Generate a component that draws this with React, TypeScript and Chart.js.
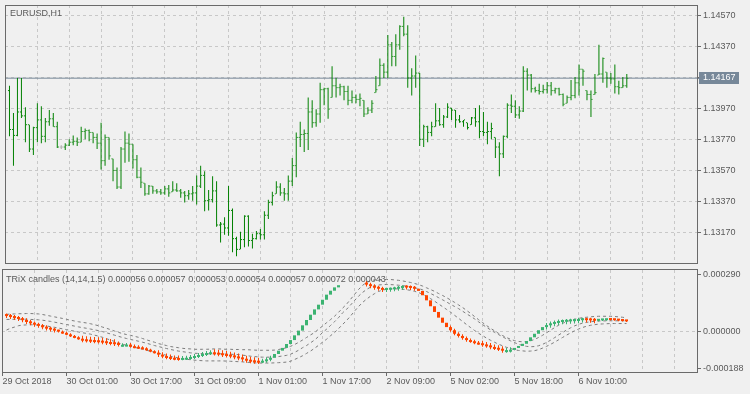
import React, { useEffect, useRef } from 'react';
import { Chart, registerables } from 'chart.js';

Chart.register(...registerables);

// ---------- text ----------
const SYMBOL_TITLE = 'EURUSD,H1';
const IND_TITLE = 'TRiX candles (14,14,1.5) 0.000056 0.000057 0.000053 0.000054 0.000057 0.000072 0.000043';

// ---------- price bars (EURUSD H1) ----------
const barOpen = [
  1.14087, 1.13836, 1.13798, 1.13949, 1.13924, 1.13867, 1.13710, 1.13848, 1.13898, 1.13792,
  1.13886, 1.13905, 1.13854, 1.13723, 1.13723, 1.13735, 1.13754, 1.13760, 1.13754, 1.13823,
  1.13829, 1.13817, 1.13785, 1.13748, 1.13635, 1.13785, 1.13647, 1.13572, 1.13465, 1.13710,
  1.13748, 1.13741, 1.13641, 1.13528, 1.13490, 1.13421, 1.13471, 1.13440, 1.13434, 1.13427,
  1.13453, 1.13434, 1.13446, 1.13440, 1.13427, 1.13409, 1.13421, 1.13427, 1.13471, 1.13540,
  1.13377, 1.13383, 1.13440, 1.13220, 1.13226, 1.13201, 1.13314, 1.13132, 1.13063, 1.13126,
  1.13277, 1.13120, 1.13132, 1.13164, 1.13157, 1.13283, 1.13365, 1.13421, 1.13465, 1.13427,
  1.13421, 1.13503, 1.13603, 1.13785, 1.13804, 1.13810, 1.13949, 1.13880, 1.13936, 1.14093,
  1.14099, 1.14043, 1.14118, 1.14106, 1.14112, 1.14081, 1.14024, 1.14043, 1.14030, 1.14024,
  1.13936, 1.13961, 1.14074, 1.14118, 1.14250, 1.14206, 1.14382, 1.14307, 1.14382, 1.14501,
  1.14451, 1.14168, 1.14181, 1.14200, 1.13773, 1.13854, 1.13817, 1.13854, 1.13892, 1.13867,
  1.13917, 1.13974, 1.13961, 1.13898, 1.13886, 1.13880, 1.13867, 1.13911, 1.13886, 1.13823,
  1.13817, 1.13823, 1.13785, 1.13723, 1.13679, 1.13792, 1.13993, 1.13986, 1.13930, 1.13955,
  1.14212, 1.14187, 1.14099, 1.14087, 1.14081, 1.14093, 1.14118, 1.14087, 1.14099, 1.14062,
  1.14005, 1.14043, 1.14055, 1.14137, 1.14225, 1.14087, 1.14062, 1.14062, 1.14187, 1.14194,
  1.14206, 1.14168, 1.14162, 1.14112, 1.14106, 1.14118,
];
const barHigh = [
  1.14118, 1.13942, 1.14168, 1.14168, 1.13980, 1.13867, 1.13854, 1.14005, 1.13986, 1.13911,
  1.13961, 1.13942, 1.13886, 1.13735, 1.13748, 1.13773, 1.13798, 1.13785, 1.13854, 1.13842,
  1.13836, 1.13817, 1.13810, 1.13880, 1.13804, 1.13785, 1.13647, 1.13591, 1.13723, 1.13823,
  1.13810, 1.13741, 1.13672, 1.13591, 1.13490, 1.13478, 1.13471, 1.13453, 1.13453, 1.13471,
  1.13478, 1.13503, 1.13490, 1.13453, 1.13440, 1.13446, 1.13471, 1.13540, 1.13603, 1.13566,
  1.13446, 1.13534, 1.13503, 1.13239, 1.13270, 1.13471, 1.13327, 1.13145, 1.13176, 1.13283,
  1.13283, 1.13164, 1.13182, 1.13195, 1.13308, 1.13383, 1.13434, 1.13503, 1.13490, 1.13459,
  1.13540, 1.13653, 1.13817, 1.13886, 1.13836, 1.14043, 1.14024, 1.13967, 1.14137, 1.14106,
  1.14106, 1.14244, 1.14168, 1.14131, 1.14118, 1.14118, 1.14087, 1.14062, 1.14068, 1.14024,
  1.13980, 1.14024, 1.14181, 1.14294, 1.14263, 1.14445, 1.14401, 1.14451, 1.14508, 1.14564,
  1.14508, 1.14231, 1.14313, 1.14200, 1.13867, 1.13861, 1.13886, 1.14005, 1.13974, 1.13930,
  1.14005, 1.13974, 1.13961, 1.13930, 1.13898, 1.13880, 1.13917, 1.13974, 1.13993, 1.13949,
  1.13886, 1.13880, 1.13785, 1.13754, 1.13798, 1.14005, 1.14062, 1.14024, 1.13986, 1.14244,
  1.14231, 1.14194, 1.14112, 1.14131, 1.14124, 1.14143, 1.14143, 1.14106, 1.14106, 1.14068,
  1.14055, 1.14156, 1.14175, 1.14256, 1.14225, 1.14087, 1.14087, 1.14194, 1.14382, 1.14300,
  1.14206, 1.14200, 1.14256, 1.14150, 1.14175, 1.14194,
];
const barLow = [
  1.13792, 1.13603, 1.13792, 1.13911, 1.13754, 1.13691, 1.13672, 1.13754, 1.13748, 1.13754,
  1.13861, 1.13854, 1.13716, 1.13710, 1.13704, 1.13729, 1.13735, 1.13729, 1.13754, 1.13773,
  1.13760, 1.13748, 1.13710, 1.13578, 1.13603, 1.13641, 1.13503, 1.13453, 1.13453, 1.13622,
  1.13628, 1.13584, 1.13522, 1.13459, 1.13409, 1.13415, 1.13421, 1.13421, 1.13415, 1.13415,
  1.13402, 1.13434, 1.13434, 1.13396, 1.13365, 1.13383, 1.13377, 1.13352, 1.13459, 1.13308,
  1.13314, 1.13365, 1.13208, 1.13107, 1.13157, 1.13151, 1.13044, 1.13019, 1.13063, 1.13076,
  1.13082, 1.13069, 1.13126, 1.13126, 1.13126, 1.13258, 1.13346, 1.13421, 1.13409, 1.13377,
  1.13377, 1.13471, 1.13528, 1.13723, 1.13691, 1.13704, 1.13848, 1.13854, 1.13880, 1.13993,
  1.13905, 1.14043, 1.14043, 1.14055, 1.14024, 1.13993, 1.14005, 1.14005, 1.13986, 1.13917,
  1.13936, 1.13942, 1.14074, 1.14118, 1.14168, 1.14168, 1.14244, 1.14244, 1.14351, 1.14438,
  1.14106, 1.14055, 1.14106, 1.13729, 1.13723, 1.13754, 1.13792, 1.13854, 1.13861, 1.13848,
  1.13911, 1.13898, 1.13848, 1.13880, 1.13854, 1.13836, 1.13867, 1.13854, 1.13779, 1.13792,
  1.13741, 1.13773, 1.13653, 1.13534, 1.13653, 1.13779, 1.13942, 1.13911, 1.13905, 1.13949,
  1.14087, 1.14074, 1.14074, 1.14062, 1.14068, 1.14068, 1.14055, 1.14068, 1.14055, 1.13986,
  1.14005, 1.14024, 1.14037, 1.14055, 1.14118, 1.14024, 1.13917, 1.14062, 1.14187, 1.14137,
  1.14106, 1.14131, 1.14068, 1.14062, 1.14106, 1.14106,
];
const barClose = [
  1.13836, 1.13798, 1.13949, 1.13924, 1.13867, 1.13710, 1.13848, 1.13898, 1.13792, 1.13886,
  1.13905, 1.13854, 1.13723, 1.13723, 1.13735, 1.13754, 1.13760, 1.13754, 1.13823, 1.13829,
  1.13817, 1.13785, 1.13748, 1.13635, 1.13785, 1.13666, 1.13572, 1.13465, 1.13710, 1.13748,
  1.13741, 1.13641, 1.13528, 1.13496, 1.13421, 1.13471, 1.13440, 1.13434, 1.13427, 1.13453,
  1.13427, 1.13446, 1.13440, 1.13427, 1.13409, 1.13421, 1.13427, 1.13471, 1.13540, 1.13377,
  1.13383, 1.13440, 1.13220, 1.13226, 1.13201, 1.13314, 1.13132, 1.13063, 1.13126, 1.13277,
  1.13120, 1.13132, 1.13164, 1.13157, 1.13283, 1.13365, 1.13409, 1.13465, 1.13427, 1.13421,
  1.13503, 1.13603, 1.13785, 1.13804, 1.13810, 1.13949, 1.13880, 1.13936, 1.14093, 1.14099,
  1.13967, 1.14118, 1.14106, 1.14112, 1.14081, 1.14024, 1.14043, 1.14030, 1.14037, 1.13936,
  1.13961, 1.14005, 1.14093, 1.14250, 1.14206, 1.14382, 1.14307, 1.14382, 1.14501, 1.14451,
  1.14168, 1.14181, 1.14200, 1.13773, 1.13854, 1.13817, 1.13854, 1.13892, 1.13867, 1.13917,
  1.13980, 1.13961, 1.13898, 1.13886, 1.13898, 1.13848, 1.13911, 1.13886, 1.13823, 1.13817,
  1.13823, 1.13842, 1.13723, 1.13679, 1.13792, 1.13993, 1.13986, 1.13930, 1.13955, 1.14212,
  1.14187, 1.14099, 1.14087, 1.14081, 1.14093, 1.14118, 1.14087, 1.14099, 1.14062, 1.13999,
  1.14043, 1.14055, 1.14137, 1.14225, 1.14212, 1.14062, 1.14030, 1.14074, 1.14194, 1.14294,
  1.14168, 1.14162, 1.14112, 1.14106, 1.14118, 1.14167,
];
const currentPrice = 1.14167;

const priceTicks = [1.1317, 1.1337, 1.1357, 1.1377, 1.1397, 1.1417, 1.1437, 1.1457];
const priceTickLabels = ['1.13170', '1.13370', '1.13570', '1.13770', '1.13970', '', '1.14370', '1.14570'];

// ---------- TRiX candles (values in millionths) ----------
const trixOpen = [
  84, 81, 76, 71, 66, 60, 51, 44, 37, 31,
  24, 17, 12, 7, 2, -4, -12, -20, -27, -34,
  -37, -39, -41, -42, -44, -47, -51, -52, -56, -66,
  -65, -64, -72, -75, -78, -83, -90, -98, -105, -115,
  -122, -127, -131, -132, -134, -132, -131, -127, -122, -117,
  -112, -107, -103, -105, -108, -112, -115, -119, -124, -129,
  -136, -141, -144, -146, -148, -146, -139, -131, -112, -95,
  -81, -61, -41, -17, 7, 34, 61, 88, 115, 139,
  164, 190, 210, 227, null, null, null, null, null, null,
  250, 241, 233, 225, 220, 214, 215, 217, 220, 224,
  228, 226, 224, 220, 209, 187, 161, 131, 102, 73,
  47, 25, 9, -9, -20, -31, -41, -47, -54, -57,
  -63, -68, -76, -80, -85, -93, -92, -90, -81, -71,
  -60, -46, -27, -9, 9, 25, 34, 41, 46, 51,
  52, 54, 55, 56, 60, 61, 60, 59, 57, 59,
  60, 63, 61, 60, 58, 56,
];
const trixClose = [
  81, 76, 71, 66, 60, 51, 44, 37, 31, 24,
  17, 12, 7, 2, -4, -12, -20, -27, -34, -37,
  -39, -41, -42, -44, -47, -51, -52, -56, -66, -65,
  -64, -72, -75, -78, -83, -90, -98, -105, -115, -122,
  -127, -131, -132, -134, -132, -131, -127, -122, -117, -112,
  -107, -103, -105, -108, -112, -115, -119, -124, -129, -136,
  -141, -144, -146, -148, -146, -139, -131, -112, -95, -81,
  -61, -41, -17, 7, 34, 61, 88, 115, 139, 164,
  190, 210, 227, 238, null, null, null, null, null, null,
  241, 233, 225, 220, 214, 215, 217, 220, 224, 228,
  226, 224, 220, 209, 187, 161, 131, 102, 73, 47,
  25, 9, -9, -20, -31, -41, -47, -54, -57, -63,
  -68, -76, -80, -85, -93, -92, -90, -81, -71, -60,
  -46, -27, -9, 9, 25, 34, 41, 46, 51, 52,
  54, 55, 56, 60, 61, 60, 59, 57, 59, 60,
  63, 61, 60, 58, 56, 54,
];
const trixWick = [
  10, 10, 10, 10, 10, 10, 10, 10, 10, 10,
  10, 10, 10, 5, 5, 5, 5, 5, 5, 15,
  15, 15, 15, 15, 15, 15, 15, 15, 8, 8,
  8, 8, 8, 8, 5, 5, 5, 5, 12, 12,
  12, 12, 12, 12, 10, 10, 10, 10, 10, 10,
  10, 10, 15, 15, 15, 15, 15, 15, 15, 15,
  15, 15, 15, 15, 10, 10, 10, 0, 0, 0,
  0, 0, 0, 0, 0, 0, 0, 0, 0, 0,
  0, 0, 0, 0, 0, 0, 0, 0, 0, 0,
  10, 10, 10, 10, 10, 10, 10, 10, 10, 10,
  10, 10, 10, 0, 0, 0, 0, 0, 0, 0,
  0, 8, 8, 8, 8, 8, 8, 8, 8, 12,
  12, 12, 12, 12, 12, 12, 12, 0, 0, 0,
  0, 0, 0, 0, 0, 12, 12, 12, 12, 12,
  12, 12, 12, 12, 12, 12, 12, 12, 3, 3,
  3, 3, 3, 3, 3, 3,
];
const trixUpper = [
  90, 91, 92, 93, 93, 94, 94, 93, 92, 89,
  85, 81, 77, 73, 69, 64, 60, 56, 52, 49,
  46, 42, 37, 32, 25, 19, 12, 5, -2, -8,
  -13, -17, -22, -27, -33, -40, -46, -52, -59, -64,
  -69, -74, -77, -80, -83, -85, -86, -88, -88, -88,
  -88, -87, -86, -86, -87, -88, -88, -89, -89, -90,
  -90, -91, -92, -93, -93, -93, -93, -92, -89, -85,
  -80, -73, -64, -53, -41, -28, -15, -3, 14, 30,
  47, 63, 80, 100, 121, 141, 166, 191, 216, 237,
  252, 260, 265, 267, 267, 267, 267, 265, 263, 260,
  256, 252, 247, 241, 234, 225, 216, 207, 196, 186,
  175, 163, 151, 138, 125, 110, 95, 79, 63, 48,
  33, 19, 6, -7, -18, -28, -37, -44, -48, -50,
  -49, -45, -38, -28, -17, -4, 9, 22, 34, 44,
  52, 60, 65, 69, 73, 75, 77, 79, 80, 80,
  80, 80, 79, 77, 75, 72,
];
const trixMid = [
  64, 64, 65, 65, 65, 65, 64, 63, 62, 60,
  57, 54, 50, 46, 42, 38, 34, 30, 26, 22,
  19, 15, 11, 7, 2, -4, -10, -16, -22, -28,
  -33, -38, -42, -47, -52, -57, -63, -69, -74, -79,
  -84, -89, -93, -97, -100, -103, -106, -108, -109, -110,
  -111, -111, -111, -111, -111, -112, -113, -114, -115, -118,
  -120, -123, -125, -127, -128, -128, -128, -127, -125, -122,
  -119, -113, -104, -93, -80, -69, -55, -41, -23, -3,
  14, 33, 52, 73, 97, 115, 137, 160, 182, 201,
  216, 228, 235, 239, 241, 242, 241, 240, 238, 236,
  233, 229, 225, 221, 215, 206, 196, 186, 175, 164,
  153, 141, 130, 119, 106, 93, 80, 67, 52, 38,
  24, 11, -2, -13, -24, -35, -45, -54, -62, -69,
  -73, -75, -74, -70, -63, -53, -42, -29, -16, -3,
  10, 21, 31, 39, 45, 49, 52, 54, 56, 56,
  57, 57, 57, 57, 57, 57,
];
const trixLower = [
  10, 19, 25, 32, 35, 36, 37, 36, 35, 33,
  31, 27, 24, 20, 16, 12, 8, 4, 0, -4,
  -7, -11, -16, -21, -27, -34, -41, -48, -55, -62,
  -68, -73, -78, -83, -88, -93, -98, -103, -108, -113,
  -119, -124, -128, -132, -136, -139, -141, -143, -145, -146,
  -147, -147, -147, -147, -147, -148, -149, -150, -151, -152,
  -154, -155, -157, -158, -158, -158, -158, -157, -156, -155,
  -153, -149, -140, -131, -121, -109, -97, -83, -68, -52,
  -37, -19, -3, 17, 38, 58, 81, 106, 129, 150,
  167, 182, 195, 206, 213, 217, 219, 220, 219, 218,
  215, 212, 207, 201, 192, 182, 170, 157, 143, 129,
  115, 101, 85, 70, 54, 38, 23, 8, -6, -18,
  -31, -42, -52, -62, -70, -78, -84, -90, -94, -96,
  -98, -97, -95, -90, -82, -73, -63, -52, -40, -28,
  -16, -5, 6, 15, 23, 29, 34, 37, 40, 41,
  42, 43, 43, 43, 43, 43,
];
const trixTicks = [-188, 0, 290];
const trixTickLabels = ['-0.000188', '0.000000', '0.000290'];

// ---------- time axis ----------
const timeIdx = [-1, 15, 31, 47, 63, 79, 95, 111, 127, 143];
const timeText = ['29 Oct 2018', '30 Oct 01:00', '30 Oct 17:00', '31 Oct 09:00', '1 Nov 01:00',
  '1 Nov 17:00', '2 Nov 09:00', '5 Nov 02:00', '5 Nov 18:00', '6 Nov 10:00'];
const gridIdx = [7, 15, 23, 31, 39, 47, 55, 63, 71, 79, 87, 95, 103, 111, 119, 127, 135, 143, 151, 159, 167];

// ---------- view ----------
const X_MIN = -1.125;
const X_MAX = 172.625;
const PRICE_MIN = 1.12975;
const PRICE_MAX = 1.14639;
const TRIX_MIN = -203.5e-6;
const TRIX_MAX = 315.4e-6;
const U = 1e-6;

const BG = '#f0f0f0';
const GRID = '#c8c8c8';
const FRAME = '#6a6a6a';
const TEXT = '#5a5a5a';
const BAR_GREEN = '#008000';
const DOJI = '#a8a8a8';
const PRICE_LINE = '#778899';
const UP = '#3cb371';
const DOWN = '#ff4500';
const BAND = '#7c7c7c';
const FONT_FAMILY = '"Liberation Sans", Arial, sans-serif';
const FONT = '9px "Liberation Sans", Arial, sans-serif';
const CLEAR = 'rgba(0,0,0,0)';

function mainConfig(): any {
  const idx = barClose.map((_, i) => i);
  const barColors = idx.map((i) => (barOpen[i] === barClose[i] ? DOJI : BAR_GREEN));
  const decor = {
    id: 'mainDecor',
    afterDraw(chart: any) {
      const { ctx, chartArea: a, scales } = chart;
      ctx.save();
      ctx.strokeStyle = FRAME;
      ctx.lineWidth = 1;
      ctx.strokeRect(a.left + 0.5, a.top + 0.5, a.right - a.left, a.bottom - a.top);
      ctx.fillStyle = TEXT;
      ctx.font = FONT;
      ctx.textBaseline = 'alphabetic';
      ctx.textAlign = 'left';
      ctx.fillText(SYMBOL_TITLE, a.left + 5, a.top + 11);
      const py = Math.round(scales.y.getPixelForValue(currentPrice));
      ctx.fillStyle = PRICE_LINE;
      ctx.fillRect(a.right + 1, py, 2, 1);
      ctx.fillRect(a.right + 2, py - 6, 40, 12);
      ctx.fillStyle = '#ffffff';
      ctx.textBaseline = 'middle';
      ctx.fillText(currentPrice.toFixed(5), a.right + 6, py);
      ctx.restore();
    },
  };
  return {
    type: 'bar',
    data: {
      datasets: [
        {
          type: 'line',
          data: [{ x: X_MIN, y: currentPrice }, { x: X_MAX, y: currentPrice }],
          borderColor: PRICE_LINE,
          borderWidth: 1,
          pointRadius: 0,
          order: 5,
        },
        {
          type: 'bar',
          data: idx.map((i) => ({ x: i, y: [barLow[i], barHigh[i]] })),
          backgroundColor: barColors,
          barThickness: 1,
          inflateAmount: 0,
          grouped: false,
          order: 2,
        },
        {
          type: 'scatter',
          data: idx.map((i) => ({ x: i - 0.25, y: barOpen[i] })),
          pointStyle: 'line',
          pointRadius: 0.5,
          pointBorderWidth: 1,
          pointBorderColor: barColors,
          order: 1,
        },
        {
          type: 'scatter',
          data: idx.map((i) => ({ x: i + 0.25, y: barClose[i] })),
          pointStyle: 'line',
          pointRadius: 0.5,
          pointBorderWidth: 1,
          pointBorderColor: barColors,
          order: 1,
        },
      ],
    },
    options: {
      responsive: false,
      maintainAspectRatio: false,
      devicePixelRatio: 1,
      animation: false,
      events: [],
      layout: { padding: { left: 2, top: 2, right: 0, bottom: 1 } },
      plugins: { legend: { display: false }, tooltip: { enabled: false }, title: { display: false } },
      scales: {
        x: {
          type: 'linear',
          offset: false,
          min: X_MIN,
          max: X_MAX,
          afterBuildTicks: (s: any) => { s.ticks = gridIdx.map((v) => ({ value: v })); },
          afterFit: (s: any) => { s.height = 0; s.paddingLeft = 0; s.paddingRight = 0; },
          ticks: { display: false },
          grid: { offset: false, color: GRID, lineWidth: 1, drawTicks: false },
          border: { display: false, dash: [3, 3] },
        },
        y: {
          type: 'linear',
          position: 'right',
          min: PRICE_MIN,
          max: PRICE_MAX,
          afterBuildTicks: (s: any) => { s.ticks = priceTicks.map((v) => ({ value: v })); },
          afterFit: (s: any) => { s.width = 53; s.paddingTop = 0; s.paddingBottom = 0; },
          ticks: {
            autoSkip: false,
            padding: 2,
            color: TEXT,
            font: { family: FONT_FAMILY, size: 9 },
            callback: (_v: any, i: number) => priceTickLabels[i],
          },
          grid: { color: GRID, lineWidth: 1, tickColor: FRAME, tickLength: 4, drawTicks: true },
          border: { display: false, dash: [3, 3] },
        },
      },
    },
    plugins: [decor],
  };
}

function indConfig(): any {
  const idx = trixClose.map((_, i) => i).filter((i) => trixClose[i] !== null && trixOpen[i] !== null);
  const col = (i: number) => ((trixClose[i] as number) > (trixOpen[i] as number) ? UP : DOWN);
  const wickIdx = idx.filter((i) => trixWick[i] > 0);
  const lineDs = (vals: number[]) => ({
    type: 'line',
    data: vals.map((v, i) => ({ x: i, y: v * U })),
    borderColor: BAND,
    borderWidth: 1,
    borderDash: [3, 3],
    pointRadius: 0,
    tension: 0,
    fill: false,
    order: 5,
  });
  const decor = {
    id: 'indDecor',
    afterDraw(chart: any) {
      const { ctx, chartArea: a } = chart;
      ctx.save();
      ctx.strokeStyle = FRAME;
      ctx.lineWidth = 1;
      ctx.strokeRect(a.left + 0.5, a.top - 0.5, a.right - a.left, a.bottom - a.top + 1);
      ctx.fillStyle = TEXT;
      ctx.font = FONT;
      ctx.textBaseline = 'alphabetic';
      ctx.textAlign = 'left';
      ctx.fillText(IND_TITLE, a.left + 4, a.top + 11.5);
      ctx.restore();
    },
  };
  return {
    type: 'bar',
    data: {
      datasets: [
        lineDs(trixUpper),
        lineDs(trixMid),
        lineDs(trixLower),
        {
          type: 'bar',
          data: wickIdx.map((i) => {
            const o = trixOpen[i] as number;
            const c = trixClose[i] as number;
            return { x: i, y: [(Math.min(o, c) - trixWick[i]) * U, (Math.max(o, c) + trixWick[i]) * U] };
          }),
          backgroundColor: wickIdx.map(col),
          barThickness: 1,
          inflateAmount: 0,
          grouped: false,
          order: 3,
        },
        {
          type: 'bar',
          data: idx.map((i) => ({ x: i, y: [(trixOpen[i] as number) * U, (trixClose[i] as number) * U] })),
          backgroundColor: idx.map(col),
          barThickness: 3,
          minBarLength: 2,
          inflateAmount: 0,
          grouped: false,
          order: 2,
        },
      ],
    },
    options: {
      responsive: false,
      maintainAspectRatio: false,
      devicePixelRatio: 1,
      animation: false,
      events: [],
      layout: { padding: { left: 2, top: 2, right: 0, bottom: 0 } },
      plugins: { legend: { display: false }, tooltip: { enabled: false }, title: { display: false } },
      scales: {
        x: {
          type: 'linear',
          offset: false,
          min: X_MIN,
          max: X_MAX,
          afterBuildTicks: (s: any) => { s.ticks = [-1, ...gridIdx].map((v) => ({ value: v })); },
          afterFit: (s: any) => { s.height = 22; s.paddingLeft = 0; s.paddingRight = 0; },
          ticks: {
            autoSkip: false,
            maxRotation: 0,
            minRotation: 0,
            align: 'start',
            padding: 0,
            color: TEXT,
            font: { family: FONT_FAMILY, size: 9 },
            callback: (v: any) => {
              const j = timeIdx.indexOf(v);
              return j >= 0 ? timeText[j] : '';
            },
          },
          grid: {
            offset: false,
            color: (c: any) => (c.tick && gridIdx.includes(c.tick.value) ? GRID : CLEAR),
            tickColor: (c: any) => (c.tick && timeIdx.includes(c.tick.value) ? FRAME : CLEAR),
            lineWidth: 1,
            tickLength: 4,
            drawTicks: true,
          },
          border: { display: false, dash: [3, 3] },
        },
        y: {
          type: 'linear',
          position: 'right',
          min: TRIX_MIN,
          max: TRIX_MAX,
          afterBuildTicks: (s: any) => { s.ticks = trixTicks.map((v) => ({ value: v * U })); },
          afterFit: (s: any) => { s.width = 53; s.paddingTop = 0; s.paddingBottom = 0; },
          ticks: {
            autoSkip: false,
            padding: 2,
            color: TEXT,
            font: { family: FONT_FAMILY, size: 9 },
            callback: (_v: any, i: number) => trixTickLabels[i],
          },
          grid: {
            color: (c: any) => (c.tick && c.tick.value === 0 ? GRID : CLEAR),
            tickColor: FRAME,
            lineWidth: 1,
            tickLength: 4,
            drawTicks: true,
          },
          border: { display: false, dash: [3, 3] },
        },
      },
    },
    plugins: [decor],
  };
}

export default function App() {
  const mainRef = useRef<HTMLCanvasElement>(null);
  const indRef = useRef<HTMLCanvasElement>(null);
  useEffect(() => {
    document.body.style.margin = '0';
    document.body.style.background = BG;
    const c1 = new Chart(mainRef.current as HTMLCanvasElement, mainConfig());
    const c2 = new Chart(indRef.current as HTMLCanvasElement, indConfig());
    return () => {
      c1.destroy();
      c2.destroy();
    };
  }, []);
  return (
    <div style={{ position: 'relative', width: 750, height: 394, background: BG, overflow: 'hidden' }}>
      <canvas ref={mainRef} width={750} height={268}
        style={{ position: 'absolute', left: 0, top: 0, width: 750, height: 268 }} />
      <canvas ref={indRef} width={750} height={126}
        style={{ position: 'absolute', left: 0, top: 268, width: 750, height: 126 }} />
    </div>
  );
}
